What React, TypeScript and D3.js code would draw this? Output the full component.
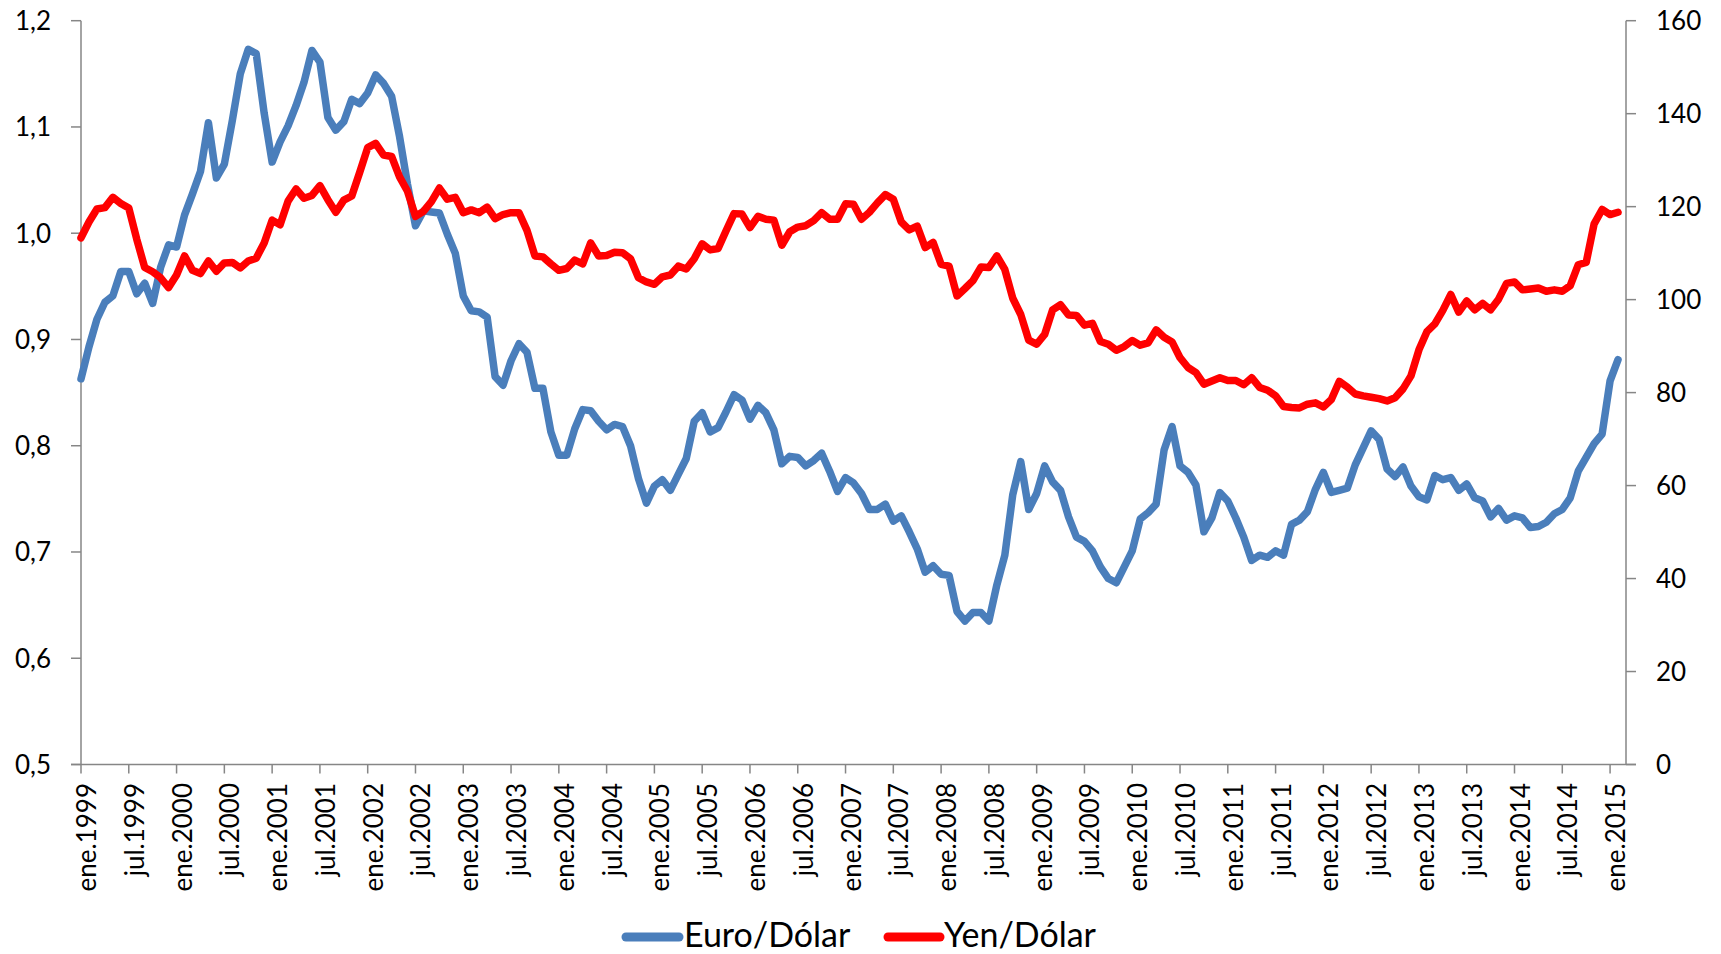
import React from "react";
import * as d3 from "d3";

// Monthly data, ene.1999 .. feb.2015
const euroDolar: number[] = [
  // 1999
  0.863, 0.893, 0.919, 0.935, 0.941, 0.964, 0.964, 0.943, 0.953, 0.934, 0.968, 0.989,
  // 2000
  0.987, 1.017, 1.037, 1.058, 1.104, 1.052, 1.065, 1.106, 1.150, 1.173, 1.169, 1.113,
  // 2001
  1.067, 1.086, 1.101, 1.120, 1.142, 1.172, 1.161, 1.109, 1.097, 1.105, 1.126, 1.122,
  // 2002
  1.132, 1.149, 1.141, 1.129, 1.091, 1.046, 1.007, 1.021, 1.020, 1.019, 0.999, 0.981,
  // 2003
  0.941, 0.927, 0.926, 0.921, 0.865, 0.857, 0.880, 0.896, 0.888, 0.854, 0.854, 0.813,
  // 2004
  0.791, 0.791, 0.816, 0.834, 0.833, 0.823, 0.815, 0.820, 0.818, 0.800, 0.769, 0.746,
  // 2005
  0.762, 0.768, 0.758, 0.773, 0.788, 0.823, 0.831, 0.813, 0.817, 0.832, 0.848, 0.843,
  // 2006
  0.825, 0.838, 0.831, 0.815, 0.783, 0.790, 0.789, 0.781, 0.786, 0.793, 0.776, 0.757,
  // 2007
  0.770, 0.765, 0.755, 0.740, 0.740, 0.745, 0.729, 0.734, 0.719, 0.703, 0.681, 0.687,
  // 2008
  0.679, 0.678, 0.644, 0.635, 0.643, 0.643, 0.635, 0.669, 0.697, 0.754, 0.785, 0.740,
  // 2009
  0.755, 0.781, 0.766, 0.758, 0.733, 0.714, 0.710, 0.701, 0.686, 0.675, 0.671, 0.686,
  // 2010
  0.701, 0.731, 0.737, 0.745, 0.796, 0.818, 0.781, 0.775, 0.763, 0.719, 0.732, 0.756,
  // 2011
  0.748, 0.732, 0.714, 0.692, 0.697, 0.695, 0.701, 0.697, 0.726, 0.730, 0.738, 0.759,
  // 2012
  0.775, 0.756, 0.758, 0.760, 0.782, 0.798, 0.814, 0.806, 0.778, 0.771, 0.780, 0.762,
  // 2013
  0.752, 0.749, 0.772, 0.768, 0.770, 0.758, 0.764, 0.751, 0.748, 0.733, 0.741, 0.730,
  // 2014
  0.734, 0.732, 0.723, 0.724, 0.728, 0.736, 0.740, 0.751, 0.776, 0.789, 0.802, 0.811,
  // 2015
  0.861, 0.881,
];

const yenDolar: number[] = [
  // 1999
  113.3, 116.7, 119.5, 119.8, 122.0, 120.7, 119.7, 113.0, 106.9, 106.0, 104.7, 102.6,
  // 2000
  105.3, 109.4, 106.3, 105.6, 108.3, 106.1, 107.9, 108.0, 106.8, 108.3, 108.9, 112.2,
  // 2001
  117.1, 116.1, 121.2, 123.8, 121.8, 122.4, 124.5, 121.5, 118.8, 121.4, 122.3, 127.4,
  // 2002
  132.7, 133.6, 131.1, 130.8, 126.4, 123.3, 117.9, 119.0, 121.1, 124.0, 121.6, 122.0,
  // 2003
  118.7, 119.3, 118.7, 119.9, 117.4, 118.3, 118.7, 118.7, 114.9, 109.4, 109.2, 107.7,
  // 2004
  106.3, 106.7, 108.5, 107.7, 112.2, 109.4, 109.5, 110.2, 110.1, 108.8, 104.7, 103.8,
  // 2005
  103.3, 104.9, 105.3, 107.2, 106.6, 108.8, 112.0, 110.7, 111.0, 114.8, 118.5, 118.4,
  // 2006
  115.5, 117.9, 117.3, 117.1, 111.7, 114.6, 115.6, 115.9, 117.0, 118.7, 117.3, 117.3,
  // 2007
  120.6, 120.5, 117.3, 118.8, 120.8, 122.6, 121.6, 116.7, 115.0, 115.8, 111.2, 112.3,
  // 2008
  107.6, 107.2, 100.8, 102.4, 104.1, 107.0, 106.9, 109.4, 106.5, 100.3, 96.8, 91.3,
  // 2009
  90.4, 92.5, 97.8, 98.9, 96.7, 96.6, 94.5, 94.9, 91.0, 90.4, 89.1, 89.9,
  // 2010
  91.2, 90.2, 90.7, 93.5, 91.9, 90.9, 87.5, 85.4, 84.3, 81.8, 82.5, 83.2,
  // 2011
  82.6, 82.6, 81.7, 83.2, 81.1, 80.5, 79.3, 77.0, 76.8, 76.7, 77.5, 77.8,
  // 2012
  76.9, 78.5, 82.4, 81.2, 79.7, 79.3, 79.0, 78.7, 78.2, 78.9, 80.8, 83.6,
  // 2013
  89.2, 93.1, 94.8, 97.7, 101.1, 97.3, 99.7, 97.8, 99.2, 97.8, 100.1, 103.5,
  // 2014
  103.8, 102.1, 102.3, 102.5, 101.8, 102.1, 101.8, 103.0, 107.5, 108.0, 116.3, 119.4,
  // 2015
  118.3, 118.8,
];

const xTickLabels: string[] = [
  "ene.1999", "jul.1999", "ene.2000", "jul.2000", "ene.2001", "jul.2001",
  "ene.2002", "jul.2002", "ene.2003", "jul.2003", "ene.2004", "jul.2004",
  "ene.2005", "jul.2005", "ene.2006", "jul.2006", "ene.2007", "jul.2007",
  "ene.2008", "jul.2008", "ene.2009", "jul.2009", "ene.2010", "jul.2010",
  "ene.2011", "jul.2011", "ene.2012", "jul.2012", "ene.2013", "jul.2013",
  "ene.2014", "jul.2014", "ene.2015",
];
const leftTicks: number[] = [0.5, 0.6, 0.7, 0.8, 0.9, 1.0, 1.1, 1.2];
const rightTicks: number[] = [0, 20, 40, 60, 80, 100, 120, 140, 160];

const seriesNames = ["Euro/Dólar", "Yen/Dólar"];
const seriesColors = ["#4A7EBB", "#FF0000"];

const W = 1721;
const H = 954;
const PLOT_L = 81;
const PLOT_R = 1626;
const PLOT_T = 20.7;
const PLOT_B = 764.5;
const FONT = "Lato, 'Open Sans', sans-serif";
const AXIS = "#868686";

export default function App() {
  const x = d3.scaleLinear().domain([0, 194]).range([PLOT_L, PLOT_R]);
  const yL = d3.scaleLinear().domain([0.5, 1.2]).range([PLOT_B, PLOT_T]);
  const yR = d3.scaleLinear().domain([0, 160]).range([PLOT_B, PLOT_T]);

  const lineL = d3
    .line<number>()
    .x((_, i) => x(i))
    .y((d) => yL(d));
  const lineR = d3
    .line<number>()
    .x((_, i) => x(i))
    .y((d) => yR(d));

  const fmtL = (v: number) => d3.format(".1f")(v).replace(".", ",");
  const tickFs = 26;
  const legFs = 34;
  const lw = 7.5;

  return (
    <svg
      width={W}
      height={H}
      viewBox={`0 0 ${W} ${H}`}
      style={{ position: "absolute", left: 0, top: 0, display: "block", background: "#fff" }}
      fontFamily={FONT}
    >
      <rect x={0} y={0} width={W} height={H} fill="#fff" />
      {/* axes */}
      <line x1={PLOT_L} x2={PLOT_L} y1={PLOT_T} y2={PLOT_B} stroke={AXIS} strokeWidth={1.5} />
      <line x1={PLOT_R} x2={PLOT_R} y1={PLOT_T} y2={PLOT_B} stroke={AXIS} strokeWidth={1.5} />
      <line x1={PLOT_L - 10} x2={PLOT_R + 10} y1={PLOT_B} y2={PLOT_B} stroke={AXIS} strokeWidth={1.5} />
      {leftTicks.map((t) => (
        <g key={"l" + t}>
          <line x1={PLOT_L - 10} x2={PLOT_L} y1={yL(t)} y2={yL(t)} stroke={AXIS} strokeWidth={1.5} />
          <text x={51} y={yL(t) + tickFs * 0.36} textAnchor="end" fontSize={tickFs} fill="#000">
            {fmtL(t)}
          </text>
        </g>
      ))}
      {rightTicks.map((t) => (
        <g key={"r" + t}>
          <line x1={PLOT_R} x2={PLOT_R + 10} y1={yR(t)} y2={yR(t)} stroke={AXIS} strokeWidth={1.5} />
          <text x={1656} y={yR(t) + tickFs * 0.36} textAnchor="start" fontSize={tickFs} fill="#000">
            {String(t)}
          </text>
        </g>
      ))}
      {xTickLabels.map((lab, i) => {
        const xi = x(i * 6);
        return (
          <g key={lab}>
            <line x1={xi} x2={xi} y1={PLOT_B} y2={PLOT_B + 9} stroke={AXIS} strokeWidth={1.5} />
            <text
              transform={`translate(${xi + 15},${783}) rotate(-90)`}
              textAnchor="end"
              fontSize={tickFs}
              fill="#000"
            >
              {lab}
            </text>
          </g>
        );
      })}
      {/* series */}
      <path
        d={lineL(euroDolar) || ""}
        fill="none"
        stroke={seriesColors[0]}
        strokeWidth={lw}
        strokeLinejoin="round"
        strokeLinecap="round"
      />
      <path
        d={lineR(yenDolar) || ""}
        fill="none"
        stroke={seriesColors[1]}
        strokeWidth={lw}
        strokeLinejoin="round"
        strokeLinecap="round"
      />
      {/* legend */}
      <g>
        <line x1={626} x2={679} y1={937} y2={937} stroke={seriesColors[0]} strokeWidth={lw + 1.5} strokeLinecap="round" />
        <text x={684} y={947} fontSize={legFs} fill="#000">
          {seriesNames[0]}
        </text>
        <line x1={888} x2={940} y1={937} y2={937} stroke={seriesColors[1]} strokeWidth={lw + 1.5} strokeLinecap="round" />
        <text x={944} y={947} fontSize={legFs} fill="#000">
          {seriesNames[1]}
        </text>
      </g>
    </svg>
  );
}
